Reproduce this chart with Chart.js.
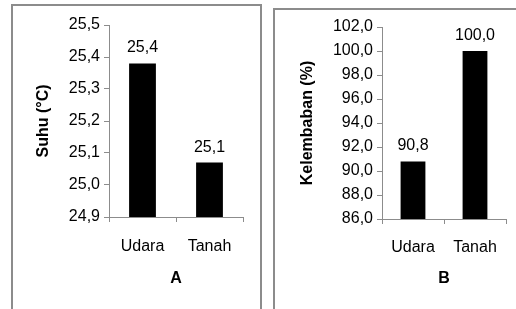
<!DOCTYPE html>
<html>
<head>
<meta charset="utf-8">
<script src="https://cdn.jsdelivr.net/npm/chart.js@4"></script>
<style>
    body { margin: 0; background: #fff; }
    #wrap { position: relative; width: 516px; height: 309px; overflow: hidden; }
    .box { position: absolute; border: 2px solid #8c8c8c; border-bottom: none; }
    canvas { position: absolute; }
</style>
</head>
<body>
<div id="wrap">
    <div class="box" style="left:11px; top:4px; width:247px; height:320px;"></div>
    <div class="box" style="left:273px; top:8px; width:260px; height:320px;"></div>
    <canvas id="chartA" style="left:13px; top:5px;" width="246" height="304"></canvas>
    <canvas id="chartB" style="left:275px; top:9px;" width="241" height="300"></canvas>
</div>
<script>
const categories = ['Udara', 'Tanah'];
const suhuValues = [25.38, 25.07];
const kelembabanValues = [90.8, 100.0];
const suhuTicks = { min: 24.9, max: 25.5, step: 0.1 };
const kelembabanTicks = { min: 86, max: 102, step: 2 };

const axisGray = '#8c8c8c';
const fontFamily = 'Arial, "Liberation Sans", sans-serif';

function comma(v) {
    return Number(v).toFixed(1).replace('.', ',');
}

// value labels above the bars
const barLabels = {
    id: 'barLabels',
    afterDatasetsDraw(chart) {
        const ctx = chart.ctx;
        const meta = chart.getDatasetMeta(0);
        const data = chart.data.datasets[0].data;
        ctx.save();
        ctx.font = '16px ' + fontFamily;
        ctx.fillStyle = '#000';
        ctx.textAlign = 'center';
        ctx.textBaseline = 'alphabetic';
        meta.data.forEach((bar, i) => {
            ctx.fillText(comma(data[i]), bar.x, bar.y - 11);
        });
        ctx.restore();
    }
};

function makeChart(canvasId, values, range, yTitle, xTitle, dims) {
    return new Chart(document.getElementById(canvasId), {
        type: 'bar',
        data: {
            labels: categories,
            datasets: [{
                data: values,
                backgroundColor: '#000',
                borderWidth: 0,
                categoryPercentage: 1,
                barPercentage: 0.4
            }]
        },
        options: {
            responsive: false,
            animation: false,
            layout: { padding: { left: 0, top: dims.top, right: dims.right, bottom: 0 } },
            plugins: { legend: { display: false }, tooltip: { enabled: false } },
            scales: {
                x: {
                    afterFit(scale) { scale.height = dims.xHeight; },
                    grid: { offset: true, drawOnChartArea: false, tickLength: 5, color: axisGray },
                    border: { color: axisGray },
                    ticks: { color: '#000', padding: dims.xPad, font: { family: fontFamily, size: 16 } },
                    title: {
                        display: true, text: xTitle, color: '#000',
                        padding: { top: 0, bottom: 21 },
                        font: { family: fontFamily, size: 16, weight: 'bold' }
                    }
                },
                y: {
                    min: range.min,
                    max: range.max,
                    afterFit(scale) { scale.width = dims.yWidth; },
                    grid: { drawOnChartArea: false, tickLength: 5, color: axisGray },
                    border: { color: axisGray },
                    ticks: {
                        stepSize: range.step, color: '#000', padding: 4,
                        font: { family: fontFamily, size: 16 },
                        callback: v => comma(v)
                    },
                    title: {
                        display: true, text: yTitle, color: '#000',
                        padding: { top: dims.yTitlePad, bottom: 0 },
                        font: { family: fontFamily, size: 16, weight: 'bold' }
                    }
                }
            }
        },
        plugins: [barLabels]
    });
}

makeChart('chartA', suhuValues, suhuTicks, 'Suhu (°C)', 'A',
    { top: 20, right: 16, xHeight: 92, yWidth: 96, xPad: 15, yTitlePad: 21 });
makeChart('chartB', kelembabanValues, kelembabanTicks, 'Kelembaban (%)', 'B',
    { top: 18, right: 10, xHeight: 90, yWidth: 107, xPad: 14, yTitlePad: 23 });
</script>
</body>
</html>
